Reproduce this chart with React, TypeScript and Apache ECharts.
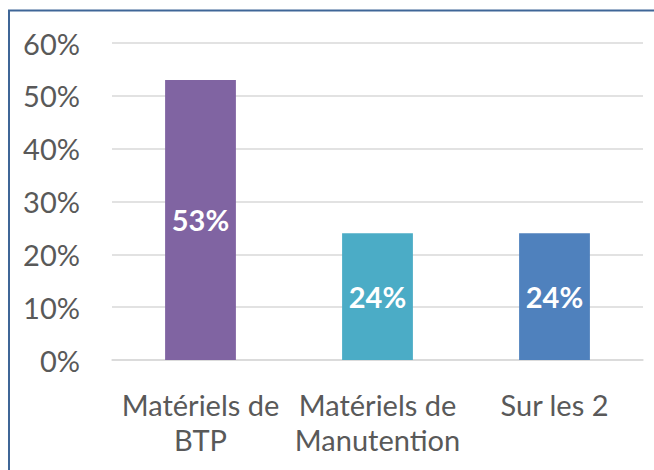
import React, { useEffect, useRef } from "react";
import * as echarts from "echarts";

const categories = ["Matériels de\nBTP", "Matériels de\nManutention", "Sur les 2"];
const values = [53, 24, 24];
const barColors = ["#8064A2", "#4BACC6", "#4F81BD"];
const yTicks = { min: 0, max: 60, interval: 10 };

export default function App() {
  const ref = useRef<HTMLDivElement>(null);
  useEffect(() => {
    if (!ref.current) return;
    const chart = echarts.init(ref.current, null, { renderer: "svg" });
    const font = "Lato, 'Open Sans', sans-serif";
    chart.setOption({
      animation: false,
      backgroundColor: "#ffffff",
      grid: { left: 112, right: 11, top: 43, bottom: 110, containLabel: false },
      graphic: [
        {
          type: "polyline",
          shape: { points: [[9, 470], [9, 10.5], [654, 10.5]] },
          style: { stroke: "#3F6697", lineWidth: 2, fill: "none" },
          z: 10,
        },
      ],
      xAxis: {
        type: "category",
        data: categories,
        axisLine: { show: true, lineStyle: { color: "#D9D9D9", width: 1.5 } },
        axisTick: { show: false },
        axisLabel: {
          interval: 0,
          color: "#595959",
          fontSize: 29,
          fontFamily: font,
          lineHeight: 35,
          margin: 27,
        },
      },
      yAxis: {
        type: "value",
        min: yTicks.min,
        max: yTicks.max,
        interval: yTicks.interval,
        axisLine: { show: false },
        axisTick: { show: false },
        splitLine: { lineStyle: { color: "#D9D9D9", width: 1.5 } },
        axisLabel: {
          formatter: "{value}%",
          color: "#595959",
          fontSize: 29,
          fontFamily: font,
          margin: 32,
        },
      },
      series: [
        {
          type: "bar",
          data: values.map((v, i) => ({ value: v, itemStyle: { color: barColors[i] } })),
          barWidth: "40%",
          label: {
            show: true,
            position: "inside",
            formatter: (p: any) => `${p.value}%`,
            color: "#ffffff",
            fontSize: 29,
            fontWeight: "bold",
            fontFamily: font,
          },
        },
      ],
    });
    return () => chart.dispose();
  }, []);
  return (
    <div
      ref={ref}
      style={{ position: "absolute", left: 0, top: 0, width: 654, height: 470 }}
    />
  );
}
